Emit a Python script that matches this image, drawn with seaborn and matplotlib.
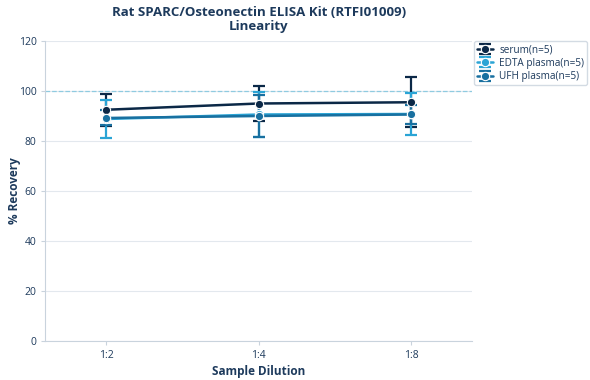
import seaborn as sns
import matplotlib.pyplot as plt
import pandas as pd
import numpy as np

# values
dilutions = ['1:2', '1:4', '1:8']
serum = [92.5, 95.0, 95.5]
serum_err = [6.5, 7.0, 10.0]
edta = [88.8, 90.6, 90.8]
edta_err = [7.5, 9.0, 8.5]
ufh = [89.2, 90.0, 90.6]
ufh_err = [3.0, 8.5, 4.0]

labels = ['serum(n=5)', 'EDTA plasma(n=5)', 'UFH plasma(n=5)']
colors = ['#0b2847', '#2aa4d5', '#1870a0']

sns.set_style('white')
plt.rcParams['font.family'] = ['Open Sans', 'DejaVu Sans']
text_col = '#1d3a5c'

df = pd.DataFrame({
    'dilution': dilutions * 3,
    'recovery': serum + edta + ufh,
    'err': serum_err + edta_err + ufh_err,
    'group': [l for l in labels for _ in dilutions],
})

fig = plt.figure(figsize=(5.9, 3.8), dpi=100)
ax = fig.add_axes([0.077, 0.103, 0.723, 0.789])

ax.axhline(100, color='#8fcbe0', lw=0.9, ls='--', zorder=1)

handles = []
for lab, col in zip(labels, colors):
    sub = df[df['group'] == lab]
    sns.lineplot(data=sub, x='dilution', y='recovery', color=col, lw=1.8,
                 marker='o', markersize=6, markeredgecolor='white',
                 markeredgewidth=0.8, legend=False, ax=ax, zorder=3)
    eb = ax.errorbar(np.arange(len(dilutions)), sub['recovery'], yerr=sub['err'],
                     fmt='none', ecolor=col, elinewidth=1.6, capsize=4,
                     capthick=1.6, zorder=2)
    ln = plt.Line2D([], [], color=col, lw=1.8, marker='o', markersize=6,
                    markeredgecolor='white', markeredgewidth=0.8)
    handles.append((eb, ln))

ax.set_ylim(0, 120)
ax.set_xlim(-0.4, 2.4)
ax.set_yticks(range(0, 121, 20))
ax.yaxis.grid(True, color='#e3e8ee', lw=0.8)
ax.set_axisbelow(True)
for s in ['top', 'right']:
    ax.spines[s].set_visible(False)
for s in ['left', 'bottom']:
    ax.spines[s].set_color('#c9d3dd')
ax.tick_params(axis='both', colors='#c9d3dd', labelcolor=text_col,
               labelsize=7.5, length=3, left=True, bottom=True)

ax.set_xlabel('Sample Dilution', fontsize=8.5, fontweight='bold', color=text_col,
              labelpad=3)
ax.set_ylabel('% Recovery', fontsize=8.5, fontweight='bold', color=text_col)
ax.yaxis.set_label_coords(-0.058, 0.5)
ax.set_title('Rat SPARC/Osteonectin ELISA Kit (RTFI01009)\nLinearity',
             fontsize=9.5, fontweight='bold', color=text_col, linespacing=1.1,
             pad=8)

leg = ax.legend(handles, labels, loc='upper left', bbox_to_anchor=(1.005, 1.0),
                fontsize=7.2, frameon=True, handlelength=1.6, borderpad=0.3,
                labelspacing=0.25, handletextpad=0.6, borderaxespad=0.0)
leg.get_frame().set_edgecolor('#c9d3dd')
for t in leg.get_texts():
    t.set_color(text_col)

fig.savefig('out.png', dpi=100)
